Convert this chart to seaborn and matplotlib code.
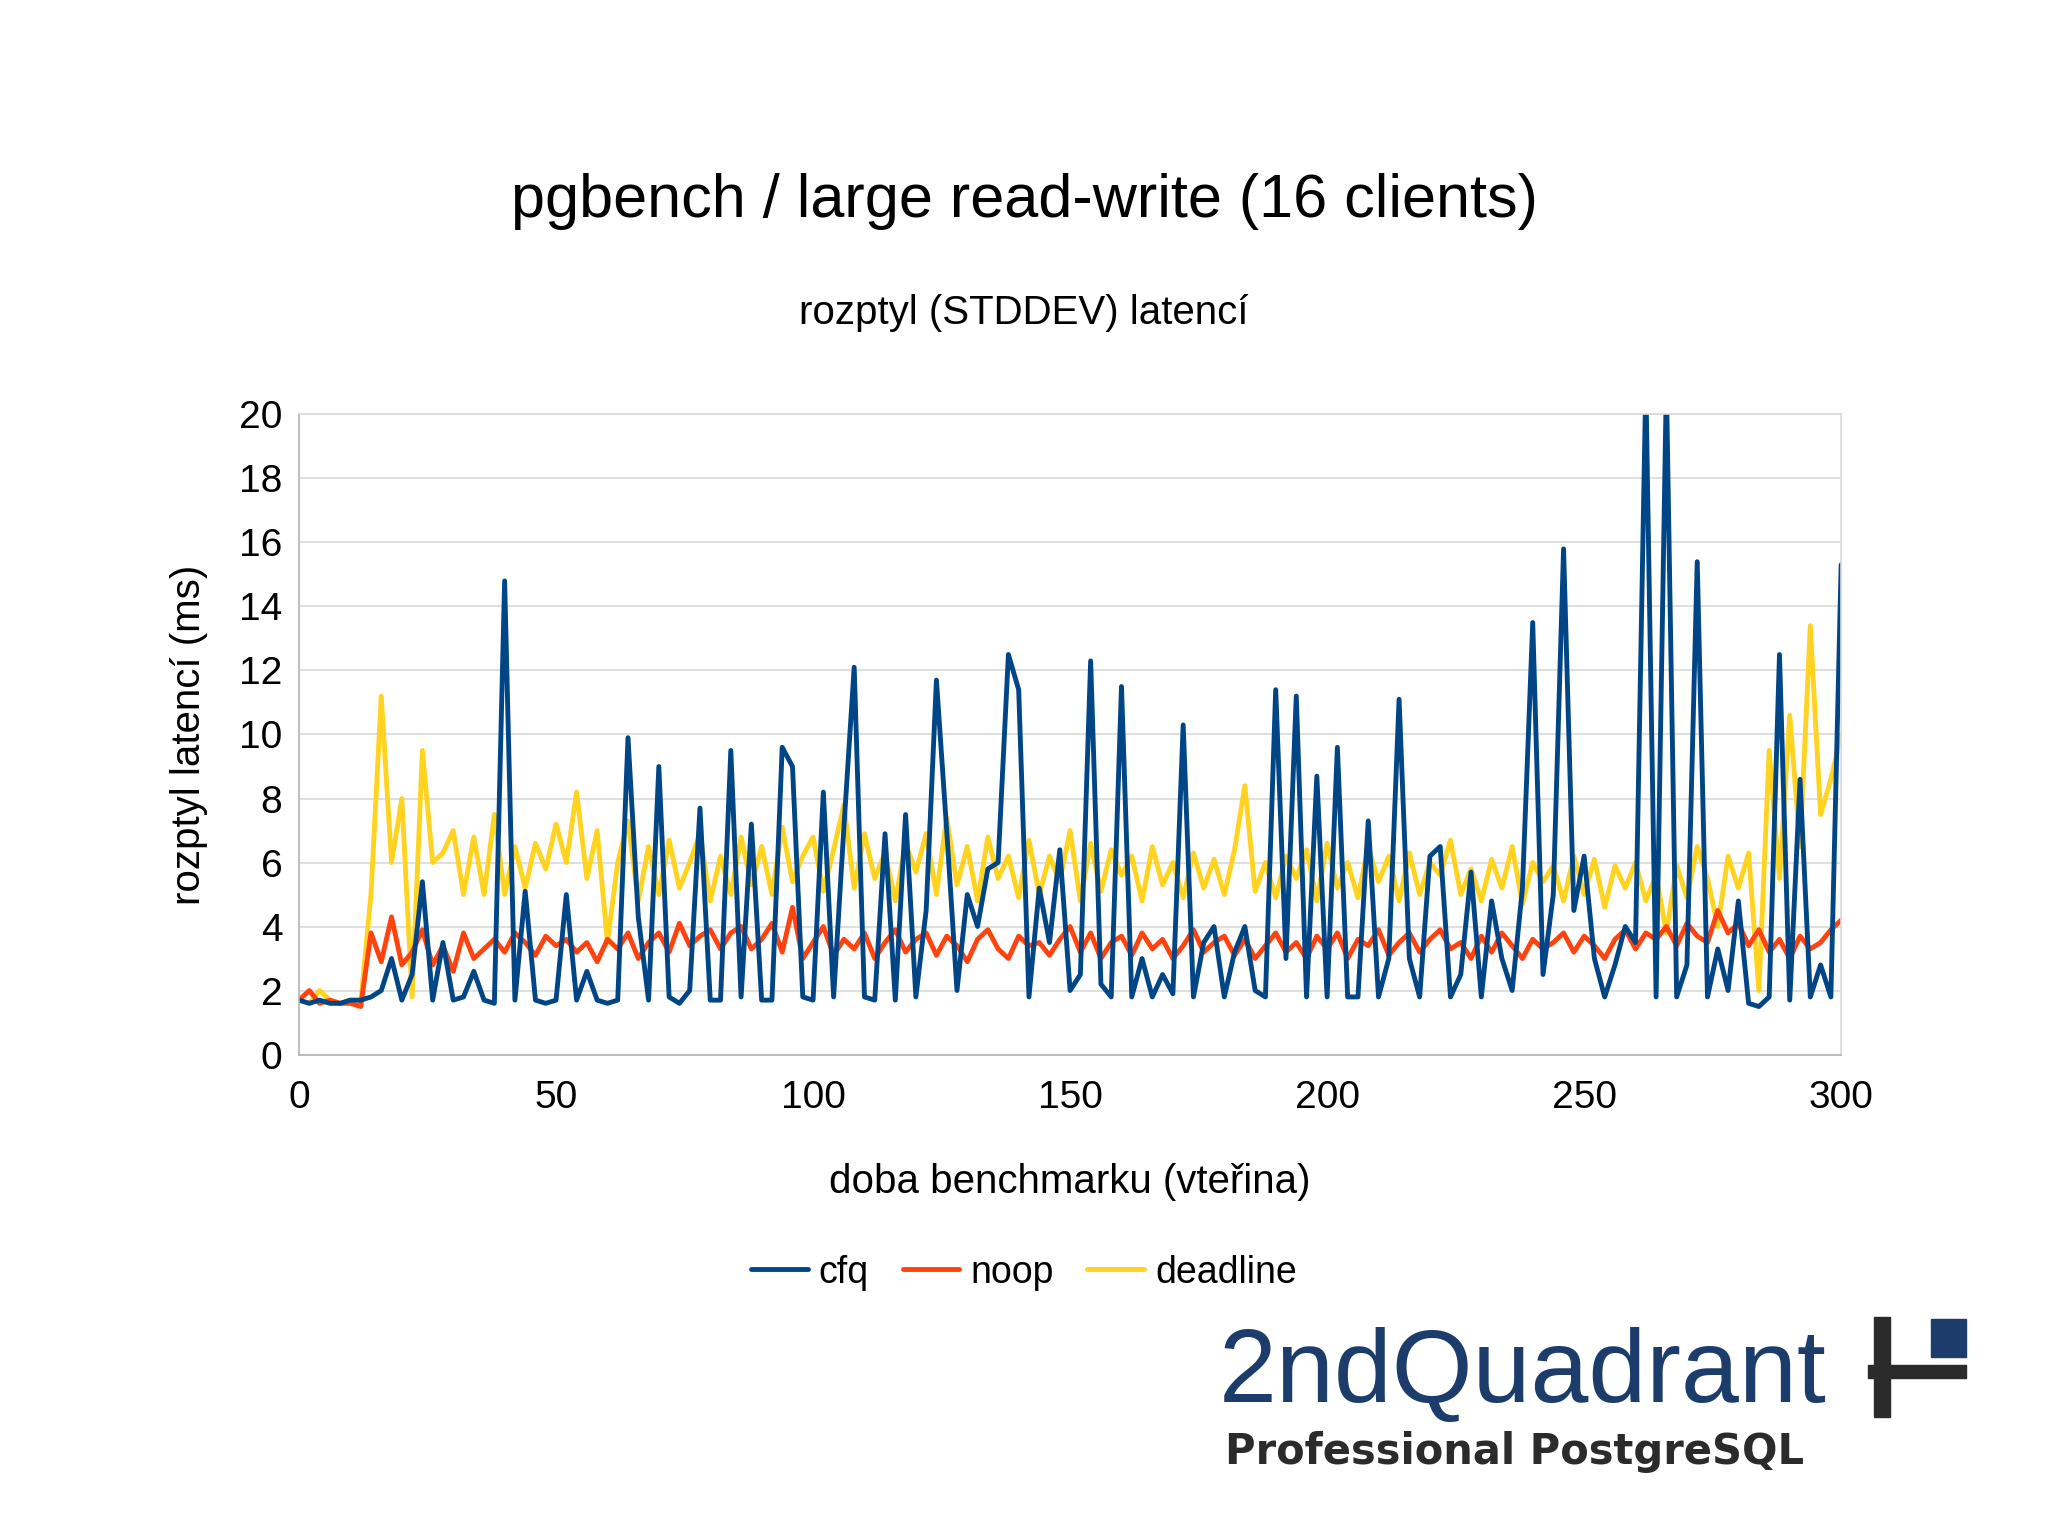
import numpy as np
import pandas as pd
import matplotlib
matplotlib.use("Agg")
import matplotlib.pyplot as plt
import seaborn as sns
from matplotlib.patches import Rectangle

seconds = list(range(0, 301, 2))

cfq = [1.7, 1.6, 1.7, 1.6, 1.6, 1.7, 1.7, 1.8, 2.0, 3.0, 1.7, 2.5, 5.4, 1.7, 3.5, 1.7,
       1.8, 2.6, 1.7, 1.6, 14.8, 1.7, 5.1, 1.7, 1.6, 1.7, 5.0, 1.7, 2.6, 1.7, 1.6, 1.7,
       9.9, 4.3, 1.7, 9.0, 1.8, 1.6, 2.0, 7.7, 1.7, 1.7, 9.5, 1.8, 7.2, 1.7, 1.7, 9.6,
       9.0, 1.8, 1.7, 8.2, 1.8, 7.1, 12.1, 1.8, 1.7, 6.9, 1.7, 7.5, 1.8, 4.5, 11.7, 7.0,
       2.0, 5.0, 4.0, 5.8, 6.0, 12.5, 11.4, 1.8, 5.2, 3.5, 6.4, 2.0, 2.5, 12.3, 2.2, 1.8,
       11.5, 1.8, 3.0, 1.8, 2.5, 1.9, 10.3, 1.8, 3.5, 4.0, 1.8, 3.2, 4.0, 2.0, 1.8, 11.4,
       3.0, 11.2, 1.8, 8.7, 1.8, 9.6, 1.8, 1.8, 7.3, 1.8, 3.0, 11.1, 3.0, 1.8, 6.2, 6.5,
       1.8, 2.5, 5.7, 1.8, 4.8, 3.0, 2.0, 5.2, 13.5, 2.5, 5.0, 15.8, 4.5, 6.2, 3.0, 1.8,
       2.8, 4.0, 3.5, 21.0, 1.8, 21.0, 1.8, 2.8, 15.4, 1.8, 3.3, 2.0, 4.8, 1.6, 1.5, 1.8,
       12.5, 1.7, 8.6, 1.8, 2.8, 1.8, 15.3]

noop = [1.7, 2.0, 1.6, 1.7, 1.6, 1.6, 1.5, 3.8, 2.9, 4.3, 2.8, 3.2, 3.9, 2.8, 3.4, 2.6,
        3.8, 3.0, 3.3, 3.6, 3.2, 3.8, 3.5, 3.1, 3.7, 3.4, 3.6, 3.2, 3.5, 2.9, 3.6, 3.3,
        3.8, 3.0, 3.5, 3.8, 3.2, 4.1, 3.4, 3.7, 3.9, 3.3, 3.8, 4.0, 3.3, 3.6, 4.1, 3.2,
        4.6, 3.0, 3.5, 4.0, 3.1, 3.6, 3.3, 3.8, 3.0, 3.5, 3.9, 3.2, 3.6, 3.8, 3.1, 3.7,
        3.4, 2.9, 3.6, 3.9, 3.3, 3.0, 3.7, 3.4, 3.5, 3.1, 3.6, 4.0, 3.2, 3.8, 3.0, 3.5,
        3.7, 3.1, 3.8, 3.3, 3.6, 3.0, 3.4, 3.9, 3.2, 3.5, 3.7, 3.1, 3.6, 3.0, 3.4, 3.8,
        3.2, 3.5, 3.0, 3.7, 3.3, 3.8, 3.0, 3.6, 3.4, 3.9, 3.1, 3.5, 3.8, 3.2, 3.6, 3.9,
        3.3, 3.5, 3.0, 3.7, 3.2, 3.8, 3.4, 3.0, 3.6, 3.3, 3.5, 3.8, 3.2, 3.7, 3.4, 3.0,
        3.6, 3.9, 3.3, 3.8, 3.6, 4.0, 3.4, 4.1, 3.7, 3.5, 4.5, 3.8, 4.1, 3.4, 3.9, 3.2,
        3.6, 3.0, 3.7, 3.3, 3.5, 3.9, 4.2]

deadline = [1.7, 1.6, 2.0, 1.7, 1.6, 1.7, 1.6, 5.0, 11.2, 6.0, 8.0, 1.8, 9.5, 6.0, 6.3, 7.0,
            5.0, 6.8, 5.0, 7.5, 5.0, 6.5, 5.2, 6.6, 5.8, 7.2, 6.0, 8.2, 5.5, 7.0, 3.5, 6.0,
            7.3, 4.8, 6.5, 5.0, 6.7, 5.2, 6.0, 6.9, 4.8, 6.2, 5.0, 6.8, 5.3, 6.5, 5.0, 7.1,
            5.4, 6.2, 6.8, 5.1, 6.4, 7.8, 5.2, 6.9, 5.5, 6.3, 4.8, 6.6, 5.7, 6.9, 5.0, 7.4,
            5.3, 6.5, 4.8, 6.8, 5.5, 6.2, 4.9, 6.7, 5.0, 6.2, 5.4, 7.0, 4.8, 6.6, 5.1, 6.4,
            5.6, 6.2, 4.8, 6.5, 5.3, 6.0, 4.9, 6.3, 5.2, 6.1, 5.0, 6.4, 8.4, 5.1, 6.0, 4.9,
            6.2, 5.5, 6.4, 4.8, 6.6, 5.2, 6.0, 4.9, 6.5, 5.4, 6.2, 4.8, 6.3, 5.0, 6.0, 5.6,
            6.7, 5.0, 5.8, 4.8, 6.1, 5.2, 6.5, 4.7, 6.0, 5.4, 5.9, 4.8, 6.2, 5.0, 6.1, 4.6,
            5.9, 5.2, 6.0, 4.8, 5.6, 3.8, 5.9, 4.9, 6.5, 5.5, 4.0, 6.2, 5.2, 6.3,
            2.0, 9.5, 5.5, 10.6, 6.5, 13.4, 7.5, 8.6, 10.0]

series = {"cfq": cfq, "noop": noop, "deadline": deadline}
colors = {"cfq": "#004586", "noop": "#ff420e", "deadline": "#ffd320"}

df = pd.DataFrame({"t": seconds, **series}).melt("t", var_name="scheduler", value_name="stddev")

# ---- figure ----
sns.set_theme(style="white")
plt.rcParams["font.family"] = ["Liberation Sans", "DejaVu Sans"]
plt.rcParams["text.color"] = "black"
plt.rcParams["axes.labelcolor"] = "black"
plt.rcParams["xtick.color"] = "black"
plt.rcParams["ytick.color"] = "black"

fig = plt.figure(figsize=(20.48, 15.35), dpi=100)
ax = fig.add_axes([0.146, 0.313, 0.753, 0.417])

# draw in reverse so cfq ends on top
for name in ["deadline", "noop", "cfq"]:
    sub = df[df["scheduler"] == name]
    sns.lineplot(data=sub, x="t", y="stddev", ax=ax, color=colors[name], lw=3.5, label=name)

ax.set_xlim(0, 300)
ax.set_ylim(0, 20)
ax.set_xticks(range(0, 301, 50))
ax.set_yticks(range(0, 21, 2))
ax.yaxis.grid(True, color="#d9d9d9", lw=1.2)
for s in ax.spines.values():
    s.set_color("#d9d9d9")
    s.set_linewidth(1.2)
ax.spines["bottom"].set_color("#b3b3b3")
ax.spines["left"].set_color("#b3b3b3")
ax.tick_params(axis="both", labelsize=28, length=0)
ax.tick_params(axis="x", pad=18)
ax.tick_params(axis="y", pad=12)
ax.set_xlabel("doba benchmarku (vteřina)", fontsize=29, labelpad=34)
ax.set_ylabel("rozptyl latencí (ms)", fontsize=29, labelpad=22)

handles, labels = ax.get_legend_handles_labels()
order = [labels.index(n) for n in ["cfq", "noop", "deadline"]]
ax.legend([handles[i] for i in order], [labels[i] for i in order],
          loc="center", bbox_to_anchor=(0.5, 0.171), bbox_transform=fig.transFigure,
          ncol=3, frameon=False, fontsize=27, handlelength=1.5, handletextpad=0.3,
          columnspacing=0.9)

fig.text(0.5, 0.869, "pgbench / large read-write (16 clients)", ha="center", va="center", fontsize=44)
fig.text(0.5, 0.796, "rozptyl (STDDEV) latencí", ha="center", va="center", fontsize=29)

# ---- logo ----
fig.text(0.595, 0.104, "2ndQuadrant", ha="left", va="center", fontsize=75, color="#1c3d6b")
fig.text(0.598, 0.054, "Professional PostgreSQL", ha="left", va="center", fontsize=30,
         fontweight="bold", color="#2b2b2b", family="DejaVu Sans")
fig.patches.append(Rectangle((0.912, 0.102), 0.048, 0.009, transform=fig.transFigure, color="#2b2b2b"))
fig.patches.append(Rectangle((0.915, 0.077), 0.008, 0.065, transform=fig.transFigure, color="#2b2b2b"))
fig.patches.append(Rectangle((0.943, 0.116), 0.017, 0.025, transform=fig.transFigure, color="#1c3d6b"))

fig.savefig("out.png", dpi=100)
